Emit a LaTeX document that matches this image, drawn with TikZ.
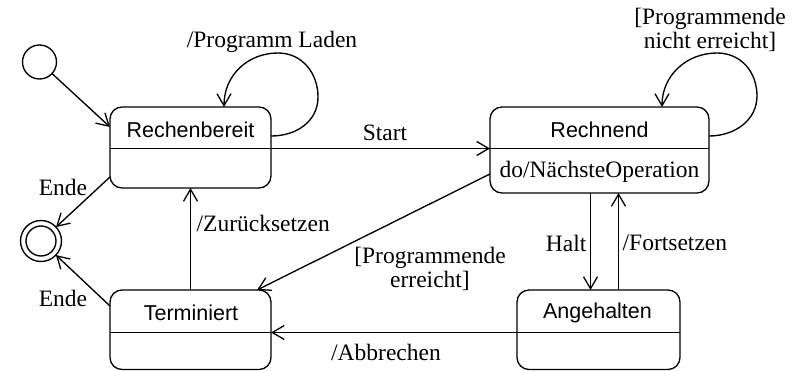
\documentclass[tikz,border=0pt]{standalone}
\usepackage{fontspec}
\setmainfont{Liberation Serif}
\newfontfamily\statefont{Liberation Sans}
\usetikzlibrary{arrows.meta,calc}

\tikzset{
  every path/.style={line width=1.35pt},
  statebox/.style={draw, rounded corners=12pt, inner sep=0pt, outer sep=0pt},
  statename/.style={inner sep=0pt, font=\statefont\fontsize{21.5}{24}\selectfont},
  lbl/.style={inner sep=0pt, font=\fontsize{23.5}{24}\selectfont, align=center},
  trans/.style={-{Straight Barb[length=12pt,width=14pt,line width=1.3pt]}},
}

\begin{document}
\begin{tikzpicture}[x=1pt,y=-1pt]
  \useasboundingbox (0,0) rectangle (800,371);

  % pseudo states
  \node[draw, circle, minimum size=34pt, inner sep=0pt, outer sep=0pt] (init) at (39.5,62) {};
  \node[draw, circle, minimum size=41pt, inner sep=0pt, outer sep=0pt] (fin) at (41,241) {};
  \node[draw, circle, minimum size=30pt, inner sep=0pt] (finin) at (fin) {};

  % states
  \node[statebox, minimum width=161pt, minimum height=81pt] (rb) at (190.5,147.5) {};
  \node[statebox, minimum width=219pt, minimum height=86pt] (rn) at (599.5,150) {};
  \node[statebox, minimum width=161pt, minimum height=79.5pt] (te) at (190.5,329.75) {};
  \node[statebox, minimum width=163pt, minimum height=79.5pt] (an) at (598.5,329.75) {};

  % compartment separators
  \draw ([yshift=-1pt]rb.west) -- ([yshift=-1pt]rb.east);
  \draw ([yshift=1.5pt]rn.west) -- ([yshift=1.5pt]rn.east);
  \draw ([yshift=-2.75pt]te.west) -- ([yshift=-2.75pt]te.east);
  \draw ([yshift=-2.75pt]an.west) -- ([yshift=-2.75pt]an.east);

  % state names and activities
  \node[statename] (rbname) at (190.5,130) {Rechenbereit};
  \node[statename] (rnname) at (599.5,130) {Rechnend};
  \node[lbl] (rndo) at (599.5,172) {do/NächsteOperation};
  \node[statename] (tename) at (191,313) {Terminiert};
  \node[statename] (anname) at (597.5,313) {Angehalten};

  % transitions
  \draw[trans] (init) -- ([yshift=-20pt]rb.north west);

  \draw[trans] ([yshift=11.5pt]rb.east)
      .. controls +(26,0) and +(0,24) .. ++(47,-39)
      .. controls +(0,-24) and +(24,0) .. ++(-40,-44)
      .. controls +(-30,0) and +(0,-32) .. ([xshift=33.5pt]rb.north);

  \draw[trans] ([yshift=14pt]rn.east)
      .. controls +(26,0) and +(0,24) .. ++(48,-40)
      .. controls +(0,-24) and +(24,0) .. ++(-40,-43)
      .. controls +(-30,0) and +(0,-32) .. ([xshift=62.5pt]rn.north);

  \draw[trans] ([yshift=-1pt]rb.east) -- ([yshift=1.5pt]rn.west);
  \draw[trans] ([yshift=11pt]rb.south west) -- (fin);
  \draw[trans] ([yshift=-16pt]te.north west) -- (fin);
  \draw[trans] (te.north) -- (rb.south);
  \draw[trans] ([yshift=-24pt]rn.west) -- ([xshift=-14pt]te.north east);
  \draw[trans] ([xshift=-9pt]rn.south) -- ([xshift=-8pt]an.north);
  \draw[trans] ([xshift=20pt]an.north) -- ([xshift=19pt]rn.south);
  \draw[trans] ([yshift=-2.75pt]an.west) -- ([yshift=-2.75pt]te.east);

  % transition labels
  \node[lbl] (lLaden) at (272,42) {/Programm Laden};
  \node[lbl] (lNicht) at (710,30) {[Programmende\\nicht erreicht]};
  \node[lbl] (lStart) at (385,133) {Start};
  \node[lbl] (lEnde1) at (63,187) {Ende};
  \node[lbl] (lEnde2) at (63,298) {Ende};
  \node[lbl, anchor=west] (lZurueck) at (196,223) {/Zurücksetzen};
  \node[lbl] (lErreicht) at (430,269) {[Programmende\\erreicht]};
  \node[lbl, anchor=east] (lHalt) at (587,243) {Halt};
  \node[lbl, anchor=west] (lFort) at (622,243) {/Fortsetzen};
  \node[lbl] (lAbbr) at (386,352) {/Abbrechen};
\end{tikzpicture}
\end{document}
